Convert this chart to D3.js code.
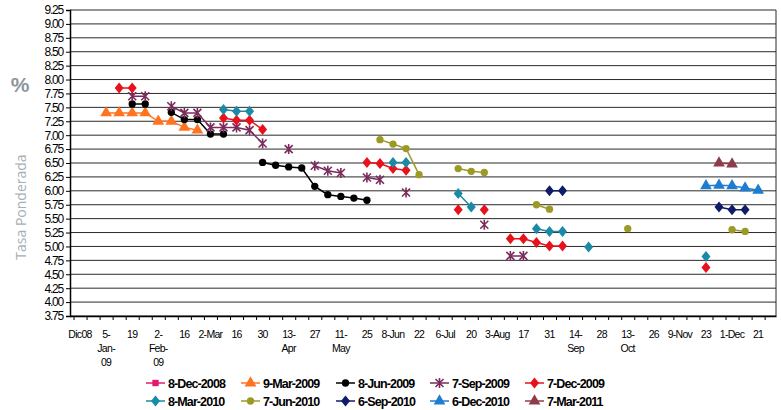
<!DOCTYPE html>
<html>
<head>
<meta charset="utf-8">
<script src="https://cdn.jsdelivr.net/npm/d3@7"></script>
<style>
  body { margin: 0; background: #fff; }
  svg { display: block; font-family: "Liberation Sans", Arial, sans-serif; }
</style>
</head>
<body>
<div id="chart"></div>
<script>
var svgWidth = 781;
var svgHeight = 410;

// plot box in pixels
var plot = { left: 70, right: 776, top: 10, bottom: 316 };

// x tick labels, one every two weeks (week 0 = "Dic08")
var tickLabels = ["Dic08", "5-\nJan-\n09", "19", "2-\nFeb-\n09", "16", "2-Mar", "16", "30",
  "13-\nApr", "27", "11-\nMay", "25", "8-Jun", "22", "6-Jul", "20", "3-Aug", "17", "31",
  "14-\nSep", "28", "13-\nOct", "26", "9-Nov", "23", "1-Dec", "21"];

var yTicks = [3.75, 4.00, 4.25, 4.50, 4.75, 5.00, 5.25, 5.50, 5.75, 6.00, 6.25, 6.50, 6.75,
  7.00, 7.25, 7.50, 7.75, 8.00, 8.25, 8.50, 8.75, 9.00, 9.25];

// series names, first week index and weekly values (null = no quote)
var seriesNames = ["8-Dec-2008", "9-Mar-2009", "8-Jun-2009", "7-Sep-2009", "7-Dec-2009",
  "8-Mar-2010", "7-Jun-2010", "6-Sep-2010", "6-Dec-2010", "7-Mar-2011"];
var seriesStart = [0, 2, 4, 4, 3, 11, 23, 36, 48, 49];

var dec2008 = [];
var mar2009 = [7.40, 7.40, 7.40, 7.40, 7.25, 7.25, 7.14, 7.09];
var jun2009 = [7.56, 7.56, null, 7.41, 7.28, 7.28, 7.02, 7.02, null, null, 6.51, 6.46, 6.43,
  6.41, 6.08, 5.93, 5.90, 5.87, 5.83];
var sep2009 = [7.70, 7.70, null, 7.52, 7.40, 7.40, 7.14, 7.14, 7.14, 7.09, 6.85, null, 6.75,
  null, 6.45, 6.36, 6.32, null, 6.24, 6.20, null, 5.97, null, null, null, null, null, 5.39,
  null, 4.83, 4.83];
var dec2009 = [7.85, 7.85, null, null, null, null, null, null, 7.31, 7.27, 7.27, 7.10, null,
  null, null, null, null, null, null, 6.51, 6.49, 6.40, 6.37, null, null, null, 5.66, null,
  5.66, null, 5.14, 5.14, 5.07, 5.01, 5.01, null, null, null, null, null, null, null, null,
  null, null, 4.62];
var mar2010 = [7.46, 7.43, 7.43, null, null, null, null, null, null, null, null, null, null,
  6.51, 6.51, null, null, null, 5.95, 5.71, null, null, null, null, 5.32, 5.27, 5.27, null,
  4.99, null, null, null, null, null, null, null, null, 4.82];
var jun2010 = [6.92, 6.84, 6.76, 6.29, null, null, 6.40, 6.35, 6.33, null, null, null, 5.75,
  5.67, null, null, null, null, null, 5.32, null, null, null, null, null, null, null, 5.30,
  5.27];
var sep2010 = [6.00, 6.00, null, null, null, null, null, null, null, null, null, null, null,
  5.71, 5.66, 5.66];
var dec2010 = [6.09, 6.10, 6.09, 6.05, 6.01];
var mar2011 = [6.50, 6.48];

var seriesValues = [dec2008, mar2009, jun2009, sep2009, dec2009, mar2010, jun2010, sep2010,
  dec2010, mar2011];

var seriesColors = ["#e3196c", "#ff7320", "#000000", "#7a2c5c", "#e8121c", "#1a8aa6",
  "#9c9a24", "#0f1d68", "#1f7dd0", "#8e3c4c"];
var seriesMarkers = ["square", "triangle", "circle", "star", "diamond", "diamond", "circle",
  "diamond", "triangle", "triangle"];

var svg = d3.select("#chart")
  .append("svg")
  .attr("width", svgWidth)
  .attr("height", svgHeight);

// week index scale: week 0 sits at x=80, one week ~13px
var xScale = d3.scaleLinear()
  .domain([-0.77, 53.37])
  .range([plot.left, plot.right]);

var yScale = d3.scaleLinear()
  .domain([3.75, 9.25])
  .range([plot.bottom, plot.top]);

// horizontal gridlines
svg.append("g")
  .selectAll("line")
  .data(yTicks)
  .enter()
  .append("line")
  .attr("x1", plot.left)
  .attr("x2", plot.right)
  .attr("y1", d => yScale(d))
  .attr("y2", d => yScale(d))
  .attr("stroke", "#2a2a2a")
  .attr("stroke-width", 1);

// right border
svg.append("line")
  .attr("x1", plot.right).attr("x2", plot.right)
  .attr("y1", plot.top).attr("y2", plot.bottom)
  .attr("stroke", "#2a2a2a");

// y axis
var leftAxis = d3.axisLeft(yScale)
  .tickValues(yTicks)
  .tickSize(4)
  .tickPadding(3)
  .tickFormat(d3.format(".2f"));

var yAxis = svg.append("g")
  .attr("transform", `translate(${plot.left}, 0)`)
  .call(leftAxis);
yAxis.select(".domain").attr("stroke", "#000").attr("stroke-width", 1.5);
yAxis.selectAll("text")
  .attr("font-size", 12)
  .attr("letter-spacing", -1.2)
  .attr("fill", "#000");

// x axis: ticks between weeks
var weekEdges = d3.range(-0.5, 53, 1);
var bottomAxis = d3.axisBottom(xScale)
  .tickValues(weekEdges)
  .tickSize(4)
  .tickSizeOuter(0)
  .tickFormat("");

var xAxis = svg.append("g")
  .attr("transform", `translate(0, ${plot.bottom})`)
  .call(bottomAxis);
xAxis.select(".domain").attr("stroke", "#000").attr("stroke-width", 1.5);

// x tick labels, multi-line
var labelGroup = svg.append("g")
  .attr("font-size", 10.5)
  .attr("letter-spacing", -0.7)
  .attr("text-anchor", "middle");

labelGroup.selectAll("text")
  .data(tickLabels)
  .enter()
  .append("text")
  .attr("x", (d, i) => xScale(i * 2))
  .attr("y", 338)
  .each(function(d) {
    var t = d3.select(this);
    var x = t.attr("x");
    d.split("\n").forEach(function(part, j) {
      t.append("tspan")
        .attr("x", x)
        .attr("dy", j === 0 ? 0 : 14)
        .text(part);
    });
  });

// axis titles
svg.append("text")
  .attr("x", 20)
  .attr("y", 92)
  .attr("text-anchor", "middle")
  .attr("font-size", 21)
  .attr("font-weight", "bold")
  .attr("fill", "#8e959c")
  .text("%");

svg.append("text")
  .attr("transform", "translate(26, 207) rotate(-90)")
  .attr("text-anchor", "middle")
  .attr("font-size", 14)
  .attr("fill", "#a7aeb6")
  .attr("font-family", "'Open Sans', sans-serif")
  .text("Tasa Ponderada");

// marker drawing
function markerPath(type) {
  if (type === "square") return d3.symbol(d3.symbolSquare, 40)();
  if (type === "triangle") return d3.symbol(d3.symbolTriangle, 60)();
  if (type === "circle") return d3.symbol(d3.symbolCircle, 42)();
  if (type === "diamond") return "M0,-5.5L4.5,0L0,5.5L-4.5,0Z";
  // star: an X with a vertical stroke
  return "M-4,-4L4,4M-4,4L4,-4M0,-5L0,5";
}

function drawMarker(g, type, color) {
  var p = g.append("path").attr("d", markerPath(type));
  if (type === "star") {
    p.attr("fill", "none").attr("stroke", color).attr("stroke-width", 1.6);
  } else {
    p.attr("fill", color);
  }
}

var line = d3.line()
  .defined(d => d.v !== null)
  .x(d => xScale(d.w))
  .y(d => yScale(d.v));

// series lines and markers
seriesNames.forEach(function(name, k) {
  var pts = seriesValues[k].map(function(v, i) {
    return { w: seriesStart[k] + i, v: v };
  });
  var g = svg.append("g");

  g.append("path")
    .datum(pts)
    .attr("fill", "none")
    .attr("stroke", seriesColors[k])
    .attr("stroke-width", 1.5)
    .attr("d", line);

  g.selectAll("g.mark")
    .data(pts.filter(d => d.v !== null))
    .enter()
    .append("g")
    .attr("class", "mark")
    .attr("transform", d => `translate(${xScale(d.w)}, ${yScale(d.v)})`)
    .each(function() {
      drawMarker(d3.select(this), seriesMarkers[k], seriesColors[k]);
    });
});

// legend, two rows of five
var legendCols = [146, 241, 336, 430, 525];
var legendRows = [383, 401];

seriesNames.forEach(function(name, k) {
  var x = legendCols[k % 5];
  var y = legendRows[Math.floor(k / 5)];
  var g = svg.append("g");

  g.append("line")
    .attr("x1", x).attr("x2", x + 19)
    .attr("y1", y).attr("y2", y)
    .attr("stroke", seriesColors[k])
    .attr("stroke-width", 1.5);

  var m = g.append("g").attr("transform", `translate(${x + 9.5}, ${y})`);
  drawMarker(m, seriesMarkers[k], seriesColors[k]);

  g.append("text")
    .attr("x", x + 22)
    .attr("y", y + 4.5)
    .attr("font-size", 12.5)
    .attr("font-weight", "bold")
    .attr("letter-spacing", -0.9)
    .text(name);
});
</script>
</body>
</html>
